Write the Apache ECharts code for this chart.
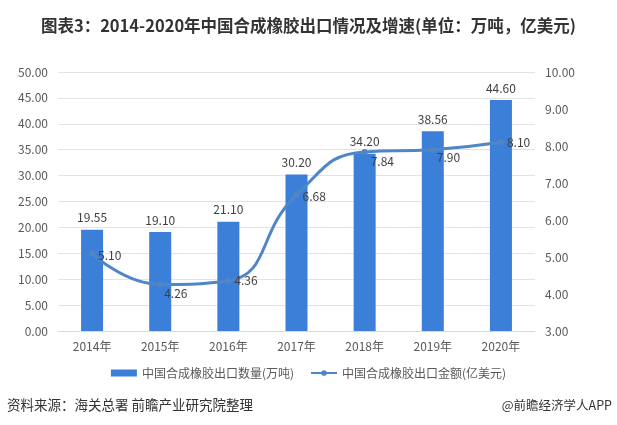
<!DOCTYPE html>
<html>
<head>
<meta charset="utf-8">
<script src="https://cdn.jsdelivr.net/npm/echarts@6/dist/echarts.min.js"></script>
<style>
  html, body { margin: 0; padding: 0; background: #fff; }
  #chart { width: 617px; height: 425px; }
</style>
</head>
<body>
<div id="chart"></div>
<script>
var years = ['2014年', '2015年', '2016年', '2017年', '2018年', '2019年', '2020年'];
var exportVolume = [19.55, 19.10, 21.10, 30.20, 34.20, 38.56, 44.60];
var exportValue = [5.10, 4.26, 4.36, 6.68, 7.84, 7.90, 8.10];

var chart = echarts.init(document.getElementById('chart'));

// label placement for the line points, by index
var lineLabelOffsets = [[0, 2], [-2, 9], [0, 0], [0, 2], [0, 10], [-2, 8], [0, 0]];

var font = '"Microsoft YaHei", "Noto Sans CJK SC", sans-serif';

var option = {
    animation: false,
    title: {
        text: '图表3：2014-2020年中国合成橡胶出口情况及增速(单位：万吨，亿美元)',
        left: 'center',
        top: 12,
        textStyle: {
            fontSize: 16.5,
            fontWeight: 'bold',
            color: '#333',
            fontFamily: font
        }
    },
    grid: {
        left: 58,
        right: 82,
        top: 72,
        bottom: 94
    },
    legend: {
        bottom: 41,
        left: 'center',
        itemGap: 16,
        itemWidth: 26,
        itemHeight: 7,
        textStyle: { fontSize: 12, color: '#595959', fontFamily: font },
        data: [
            { name: '中国合成橡胶出口数量(万吨)', icon: 'rect' },
            { name: '中国合成橡胶出口金额(亿美元)' }
        ]
    },
    xAxis: {
        type: 'category',
        data: years,
        axisTick: { show: false },
        axisLine: { lineStyle: { color: '#d9d9d9' } },
        axisLabel: { color: '#595959', fontSize: 12, margin: 9, fontFamily: font }
    },
    yAxis: [{
        type: 'value',
        min: 0,
        max: 50,
        interval: 5,
        axisLine: { show: false },
        axisTick: { show: false },
        splitLine: { lineStyle: { color: '#e3e3e3' } },
        axisLabel: {
            color: '#595959',
            fontSize: 12,
            margin: 10,
            fontFamily: font,
            formatter: function (v) { return v.toFixed(2); }
        }
    }, {
        type: 'value',
        min: 3,
        max: 10,
        interval: 1,
        axisLine: { show: false },
        axisTick: { show: false },
        splitLine: { show: false },
        axisLabel: {
            color: '#595959',
            fontSize: 12,
            margin: 10,
            fontFamily: font,
            formatter: function (v) { return v.toFixed(2); }
        }
    }],
    series: [{
        name: '中国合成橡胶出口数量(万吨)',
        type: 'bar',
        data: exportVolume,
        barWidth: 22,
        itemStyle: { color: '#3b7fd9' },
        label: {
            show: true,
            position: 'top',
            distance: 6,
            color: '#404040',
            fontSize: 12,
            fontFamily: font,
            formatter: function (p) { return p.value.toFixed(2); }
        }
    }, {
        name: '中国合成橡胶出口金额(亿美元)',
        type: 'line',
        yAxisIndex: 1,
        smooth: 0.5,
        data: exportValue.map(function (v, i) {
            return {
                value: v,
                label: { offset: lineLabelOffsets[i] }
            };
        }),
        symbol: 'circle',
        symbolSize: 6,
        lineStyle: { color: '#4f86c6', width: 3 },
        itemStyle: { color: '#4f86c6' },
        label: {
            show: true,
            position: 'right',
            distance: 3,
            color: '#404040',
            fontSize: 12,
            fontFamily: font,
            formatter: function (p) { return p.value.toFixed(2); }
        }
    }],
    graphic: [{
        type: 'text',
        left: 7,
        top: 398,
        style: {
            text: '资料来源：海关总署 前瞻产业研究院整理',
            fill: '#333',
            fontSize: 13.5,
            fontFamily: font
        }
    }, {
        type: 'text',
        right: 5,
        top: 399,
        style: {
            text: '@前瞻经济学人APP',
            fill: '#333',
            fontSize: 12.5,
            fontFamily: font
        }
    }]
};

chart.setOption(option);
</script>
</body>
</html>
